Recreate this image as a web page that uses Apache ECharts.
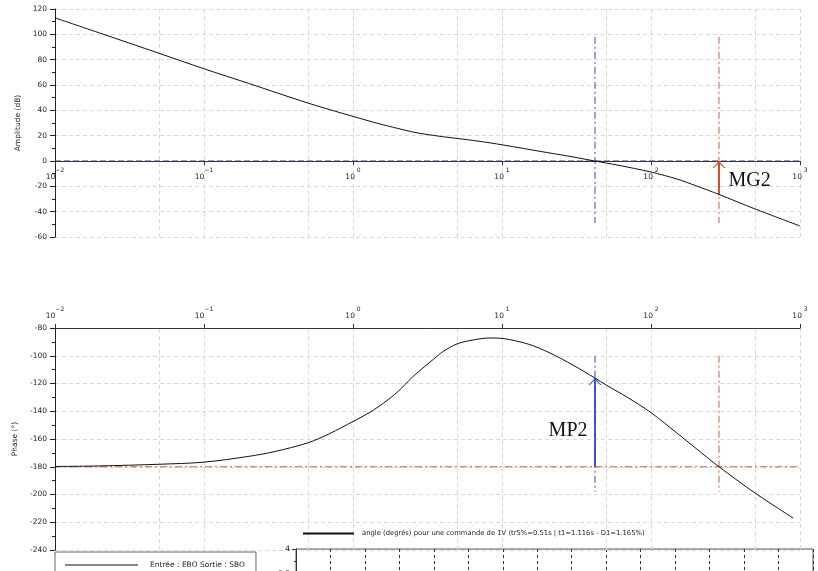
<!DOCTYPE html>
<html>
<head>
<meta charset="utf-8">
<script src="https://cdn.jsdelivr.net/npm/echarts@6/dist/echarts.min.js"></script>
<style>
  html, body { margin: 0; padding: 0; background: #fff; }
  #chart { width: 818px; height: 571px; }
</style>
</head>
<body>
<div id="chart"></div>
<script>
// gain curve
const gainFreqs = [0.01, 0.02, 0.05, 0.1, 0.2, 0.5, 1, 1.5, 2, 2.5, 3, 4, 5, 7, 10, 20, 30, 42, 60, 100, 150, 200, 286, 500, 1000]
const gainDb = [113, 101, 85, 72.8, 61.2, 45.7, 35.2, 29.4, 25.7, 23, 21.3, 19.2, 17.8, 15.6, 12.8, 6.7, 3.2, 0, -3.3, -8.7, -14.3, -19.5, -26.4, -37.9, -51.3]

// phase curve
const phaseFreqs = [0.01, 0.02, 0.05, 0.1, 0.2, 0.3, 0.5, 0.7, 1, 1.3, 1.6, 2, 2.5, 3, 3.5, 4, 5, 6.5, 8.3, 10, 15, 21, 30, 42, 50, 70, 100, 150, 200, 286, 500, 900]
const phaseDeg = [-179.8, -179.4, -178.2, -176.7, -172.5, -169, -162.7, -156, -147.4, -140.7, -134.2, -125.9, -115.5, -108.1, -102.2, -97.1, -91.4, -88.5, -87.2, -87.5, -91.6, -98, -106.8, -116, -121.1, -130.2, -141, -155.9, -166.7, -180, -199, -217]

// margins
const crossFreq = 42.1      // gain crossover (0 dB)
const phase180Freq = 286    // phase = -180
const gainMargin = -26.4    // MG2: gain at phase180Freq
const phaseAtCross = -116   // MP2 top
const gainGuideY = [98, -49]
const phaseGuideY = [-100, -198]

// dashed grid at 5.10^k
const halfDecades = [0.05, 0.5, 5, 50, 500]

const legendBode = 'Entrée : EBO Sortie : SBO'
const legendStep = 'angle (degrés) pour une commande de 1V (tr5%=0.51s | t1=1.116s - D1=1.165%)'

const FONT = 'DejaVu Sans'
const gridLine = { color: '#d9d9d9', type: [4, 3], width: 1 }
const dashDot = [7, 3, 2, 3]
const RED = '#d95a38'
const BLUE = '#3a4aae'
// open arrow head, apex at the centre of its box
const chevron = 'path://M6.5,-7 L6.6,-7 Z M0,7 L6.5,0 L13,7 L11.6,7 L6.5,1.9 L1.4,7 Z'

function pow10Label(v) {
  const e = Math.round(Math.log10(v))
  return '{b|10}{s|' + (e < 0 ? '−' + (-e) : ' ' + e) + '}'
}
const powRich = {
  b: { fontSize: 7.5, fontFamily: FONT, color: '#222', lineHeight: 14, verticalAlign: 'bottom' },
  s: { fontSize: 6, fontFamily: FONT, color: '#222', lineHeight: 14, verticalAlign: 'top' }
}

function logXAxis(gridIndex, position, margin, offset) {
  return {
    type: 'log', logBase: 10, gridIndex, position, offset,
    min: 0.01, max: 1000,
    axisLine: { onZero: false, lineStyle: { color: '#333', width: 1 } },
    axisTick: { length: 4, lineStyle: { color: '#333' } },
    axisLabel: { formatter: pow10Label, rich: powRich, margin },
    splitLine: { show: true, lineStyle: gridLine },
    minorTick: { show: false }
  }
}

function valueYAxis(gridIndex, min, max, interval, name) {
  return {
    type: 'value', gridIndex, min, max, interval,
    name, nameLocation: 'middle', nameGap: 30,
    nameTextStyle: { fontSize: 7.5, fontFamily: FONT, color: '#222' },
    axisLine: { show: true, onZero: false, lineStyle: { color: '#222' } },
    axisTick: { show: true, length: 5, lineStyle: { color: '#222' } },
    minorTick: { show: true, splitNumber: 2, length: 3, lineStyle: { color: '#222' } },
    axisLabel: { fontSize: 7.5, fontFamily: FONT, color: '#222', margin: 8 },
    splitLine: { show: true, lineStyle: gridLine }
  }
}

function guide(xi, data, color, type, z) {
  return {
    type: 'line', xAxisIndex: xi, yAxisIndex: xi, data, symbol: 'none', silent: true, z,
    lineStyle: { color, type, width: 1 }, itemStyle: { color }
  }
}

const halfDecadeLines = halfDecades.map(v => ({ xAxis: v, lineStyle: gridLine }))

// the amplitude x axis sits on the 0 dB line
const AMP_TOP = 9, AMP_H = 228, AMP_MIN = -60, AMP_MAX = 120
const zeroOffset = -AMP_H * (0 - AMP_MIN) / (AMP_MAX - AMP_MIN)

const option = {
  animation: false,
  backgroundColor: '#fff',
  textStyle: { fontFamily: FONT },
  grid: [
    { left: 55, top: AMP_TOP, width: 745, height: AMP_H, outerBoundsMode: 'none' },
    { left: 55, top: 328, width: 745, height: 222, outerBoundsMode: 'none' },
    { left: 296, top: 549, width: 517, height: 200, outerBoundsMode: 'none',
      show: true, borderColor: '#555', borderWidth: 1 }
  ],
  xAxis: [
    logXAxis(0, 'bottom', 6, zeroOffset),
    logXAxis(1, 'top', 8, 0),
    {
      type: 'value', gridIndex: 2, min: 0, max: 15, interval: 1,
      axisLine: { lineStyle: { color: '#333' } },
      axisTick: { show: false },
      axisLabel: { show: false },
      splitLine: { show: true, lineStyle: { color: '#333', type: [3, 3], width: 1 } }
    }
  ],
  yAxis: [
    valueYAxis(0, AMP_MIN, AMP_MAX, 20, 'Amplitude (dB)'),
    valueYAxis(1, -240, -80, 20, 'Phase (°)'),
    {
      type: 'value', gridIndex: 2, min: 0, max: 4, interval: 0.5,
      axisLine: { show: true, lineStyle: { color: '#333' } },
      axisTick: { show: true, length: 4, lineStyle: { color: '#333' } },
      minorTick: { show: true, splitNumber: 2, length: 2, lineStyle: { color: '#333' } },
      axisLabel: { fontSize: 7.5, fontFamily: FONT, color: '#222', margin: 6 },
      splitLine: { show: false }
    }
  ],
  legend: [
    {
      data: [legendBode], left: 55, top: 552, orient: 'vertical', selectedMode: false,
      padding: [9, 11, 20, 10], borderColor: '#666', borderWidth: 1, backgroundColor: '#fff',
      icon: 'rect', itemWidth: 73, itemHeight: 1, itemStyle: { color: '#111' },
      textStyle: { fontSize: 7.5, fontFamily: FONT, color: '#222', padding: [0, 0, 0, 7] }
    },
    {
      data: [legendStep], left: 303, top: 530, selectedMode: false, padding: 0,
      icon: 'rect', itemWidth: 51, itemHeight: 2, itemStyle: { color: '#111' },
      textStyle: { fontSize: 6.8, fontFamily: FONT, color: '#222', padding: [0, 0, 0, 3] }
    }
  ],
  series: [
    {
      name: legendBode, type: 'line', xAxisIndex: 0, yAxisIndex: 0,
      data: gainFreqs.map((f, i) => [f, gainDb[i]]),
      symbol: 'none', smooth: 0.3, z: 5,
      lineStyle: { color: '#111', width: 1 }, itemStyle: { color: '#111' },
      markLine: {
        silent: true, symbol: 'none', label: { show: false }, z: 1,
        data: [
          ...halfDecadeLines,
          [{ coord: [phase180Freq, gainMargin], symbol: 'none', lineStyle: { color: '#d24a2c', type: 'solid', width: 2 } },
           { coord: [phase180Freq, 0], symbol: chevron, symbolSize: [13, 14] }]
        ]
      },
      markPoint: {
        silent: true, symbol: 'rect', symbolSize: 1, itemStyle: { color: 'rgba(0,0,0,0)' },
        data: [{
          coord: [phase180Freq, -15.7],
          label: { show: true, position: 'right', distance: 9, formatter: 'MG2',
            fontFamily: 'Liberation Serif', fontSize: 20, color: '#111' }
        }]
      }
    },
    {
      name: legendBode, type: 'line', xAxisIndex: 1, yAxisIndex: 1,
      data: phaseFreqs.map((f, i) => [f, phaseDeg[i]]),
      symbol: 'none', smooth: 0.3, z: 5,
      lineStyle: { color: '#111', width: 1 }, itemStyle: { color: '#111' },
      markLine: {
        silent: true, symbol: 'none', label: { show: false }, z: 1,
        data: [
          ...halfDecadeLines,
          [{ coord: [crossFreq, -180], symbol: 'none', lineStyle: { color: '#3d55ee', type: 'solid', width: 2 } },
           { coord: [crossFreq, phaseAtCross], symbol: chevron, symbolSize: [13, 14] }]
        ]
      },
      markPoint: {
        silent: true, symbol: 'rect', symbolSize: 1, itemStyle: { color: 'rgba(0,0,0,0)' },
        data: [{
          coord: [crossFreq, -153.9],
          label: { show: true, position: 'left', distance: 7, formatter: 'MP2',
            fontFamily: 'Liberation Serif', fontSize: 20, color: '#111' }
        }]
      }
    },
    // guide lines
    guide(0, [[0.01, 0], [1000, 0]], '#2f3a7a', [6, 3], 3),
    guide(0, gainGuideY.map(y => [crossFreq, y]), BLUE, dashDot, 3),
    guide(0, gainGuideY.map(y => [phase180Freq, y]), RED, dashDot, 3),
    guide(1, [[0.01, -180], [1000, -180]], RED, dashDot, 3),
    guide(1, phaseGuideY.map(y => [crossFreq, y]), BLUE, dashDot, 3),
    guide(1, phaseGuideY.map(y => [phase180Freq, y]), RED, dashDot, 3),
    {
      // step response panel, only its top edge is in frame
      name: legendStep, type: 'line', xAxisIndex: 2, yAxisIndex: 2,
      data: [], symbol: 'none',
      lineStyle: { color: '#111', width: 2 }, itemStyle: { color: '#111' }
    }
  ]
}

const chart = echarts.init(document.getElementById('chart'), null, { renderer: 'canvas' })
chart.setOption(option)
</script>
</body>
</html>
